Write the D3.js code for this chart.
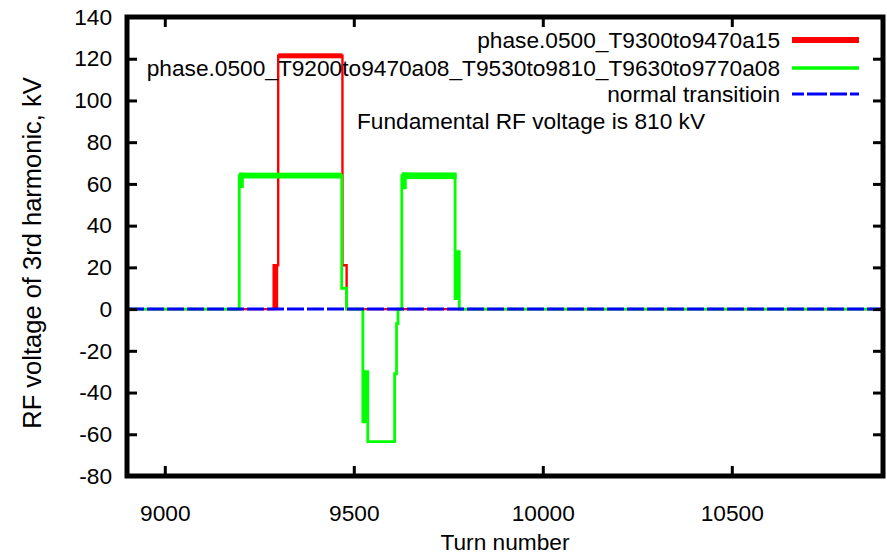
<!DOCTYPE html>
<html>
<head>
<meta charset="utf-8">
<script src="https://cdn.jsdelivr.net/npm/d3@7/dist/d3.min.js"></script>
<style>
  html, body { margin: 0; padding: 0; background: #fff; }
  svg { display: block; }
  text { font-family: "Liberation Sans", Arial, sans-serif; font-size: 22.7px; fill: #000; }
</style>
</head>
<body>
<svg id="chart" width="887" height="555"></svg>
<script>
// Axis ticks
const turnTicks = [9000, 9500, 10000, 10500];
const kvTicks = [-80, -60, -40, -20, 0, 20, 40, 60, 80, 100, 120, 140];

// Series: [turn, kV] points
const redSeries = [
  [8900, 0], [9288, 0], [9288, 21], [9300, 21], [9300, 121.4],
  [9470, 121.4], [9470, 21], [9481, 21], [9481, 0], [10900, 0]
];
const greenSeries = [
  [8900, 0], [9197, 0], [9197, 64], [9468, 64], [9468, 10], [9481, 10], [9481, 0],
  [9524, 0], [9524, -54], [9531, -54], [9531, -30], [9537, -30], [9537, -63.5],
  [9608, -63.5], [9608, -31], [9613, -31], [9613, -7], [9617, -7], [9617, 0],
  [9627, 0], [9627, 64], [9768, 64], [9768, 5], [9772, 5], [9772, 27.5],
  [9779, 27.5], [9779, 0], [10900, 0]
];
const blueSeries = [[8900, 0], [10900, 0]];

// Fast ripple envelopes: [turnStart, turnEnd, low kV, high kV]
const redRipple = [[9300, 9470, 120.2, 122.6], [9288, 9300, 0, 21]];
const greenRipple = [
  [9197, 9468, 62.6, 65.4], [9197, 9209, 58, 65.4],
  [9627, 9772, 62.3, 65.5], [9627, 9640, 57.5, 65.5]
];

// Legend entries
const legendLabels = [
  "phase.0500_T9300to9470a15",
  "phase.0500_T9200to9470a08_T9530to9810_T9630to9770a08",
  "normal transitioin"
];
const noteText = "Fundamental RF voltage is 810 kV";

const svg = d3.select("#chart");
const plotLeft = 127, plotRight = 883, plotTop = 17, plotBottom = 476;

const x = d3.scaleLinear().domain([8900, 10900]).range([plotLeft, plotRight]);
const y = d3.scaleLinear().domain([-80, 140]).range([plotBottom, plotTop]);

svg.append("defs").append("clipPath").attr("id", "plotClip")
  .append("rect").attr("x", plotLeft).attr("y", plotTop)
  .attr("width", plotRight - plotLeft).attr("height", plotBottom - plotTop);

const plot = svg.append("g").attr("clip-path", "url(#plotClip)");
const line = d3.line().x(d => x(d[0])).y(d => y(d[1]));

function drawRipple(data, color) {
  plot.selectAll(null).data(data).enter().append("rect")
    .attr("x", d => x(d[0]))
    .attr("y", d => y(d[3]))
    .attr("width", d => x(d[1]) - x(d[0]))
    .attr("height", d => y(d[2]) - y(d[3]))
    .attr("fill", color);
}

const red = "#ff0000", green = "#00ff00", blue = "#0000ff";

drawRipple(redRipple, red);
plot.append("path").datum(redSeries).attr("d", line)
  .attr("fill", "none").attr("stroke", red).attr("stroke-width", 2.4);

drawRipple(greenRipple, green);
plot.append("path").datum(greenSeries).attr("d", line)
  .attr("fill", "none").attr("stroke", green).attr("stroke-width", 2.8);

plot.append("path").datum(blueSeries).attr("d", line)
  .attr("fill", "none").attr("stroke", blue).attr("stroke-width", 3)
  .attr("stroke-dasharray", "17,3");

// Axes with inward ticks on all four sides; plain hyphen for negatives
const plainNumber = d => String(d);
function styleAxis(g) {
  g.select(".domain").remove();
  g.selectAll(".tick line").attr("stroke", "#000").attr("stroke-width", 3);
}
function styleLabels(g) {
  g.selectAll("text").style("font-size", "22.7px")
    .style("font-family", "Liberation Sans, Arial, sans-serif").attr("fill", "#000");
}
svg.append("g").attr("transform", `translate(${plotLeft},0)`)
  .call(d3.axisLeft(y).tickValues(kvTicks).tickFormat(plainNumber)
    .tickSize(-10).tickPadding(15))
  .call(styleAxis).call(styleLabels);
svg.append("g").attr("transform", `translate(${plotRight},0)`)
  .call(d3.axisRight(y).tickValues(kvTicks).tickSize(-10).tickFormat(""))
  .call(styleAxis);
svg.append("g").attr("transform", `translate(0,${plotBottom})`)
  .call(d3.axisBottom(x).tickValues(turnTicks).tickFormat(plainNumber)
    .tickSize(-10).tickPadding(29))
  .call(styleAxis).call(styleLabels);
svg.append("g").attr("transform", `translate(0,${plotTop})`)
  .call(d3.axisTop(x).tickValues(turnTicks).tickSize(-10).tickFormat(""))
  .call(styleAxis);

// Frame
svg.append("rect").attr("x", plotLeft).attr("y", plotTop)
  .attr("width", plotRight - plotLeft).attr("height", plotBottom - plotTop)
  .attr("fill", "none").attr("stroke", "#000").attr("stroke-width", 5);

// Axis titles
svg.append("text").attr("x", (plotLeft + plotRight) / 2).attr("y", 542)
  .attr("text-anchor", "middle").attr("dy", "0.35em").text("Turn number");
svg.append("text").attr("transform", "translate(32,253) rotate(-90)")
  .attr("text-anchor", "middle").attr("dy", "0.35em")
  .style("font-size", "25.5px")
  .text("RF voltage of 3rd harmonic, kV");

// Legend
const legendColors = [red, green, blue];
const legendWidths = [6, 3.3, 3];
const legendY = [40, 68, 94];
const legend = svg.append("g");
legendLabels.forEach((label, i) => {
  legend.append("text").attr("x", 780).attr("y", legendY[i])
    .attr("text-anchor", "end").attr("dy", "0.35em").text(label);
  const ln = legend.append("line")
    .attr("x1", 792).attr("x2", 859).attr("y1", legendY[i]).attr("y2", legendY[i])
    .attr("stroke", legendColors[i]).attr("stroke-width", legendWidths[i]);
  if (i === 2) ln.attr("stroke-dasharray", "12,3,20,3,17,3");
});
legend.append("text").attr("x", 357).attr("y", 121)
  .attr("dy", "0.35em").text(noteText);
</script>
</body>
</html>
